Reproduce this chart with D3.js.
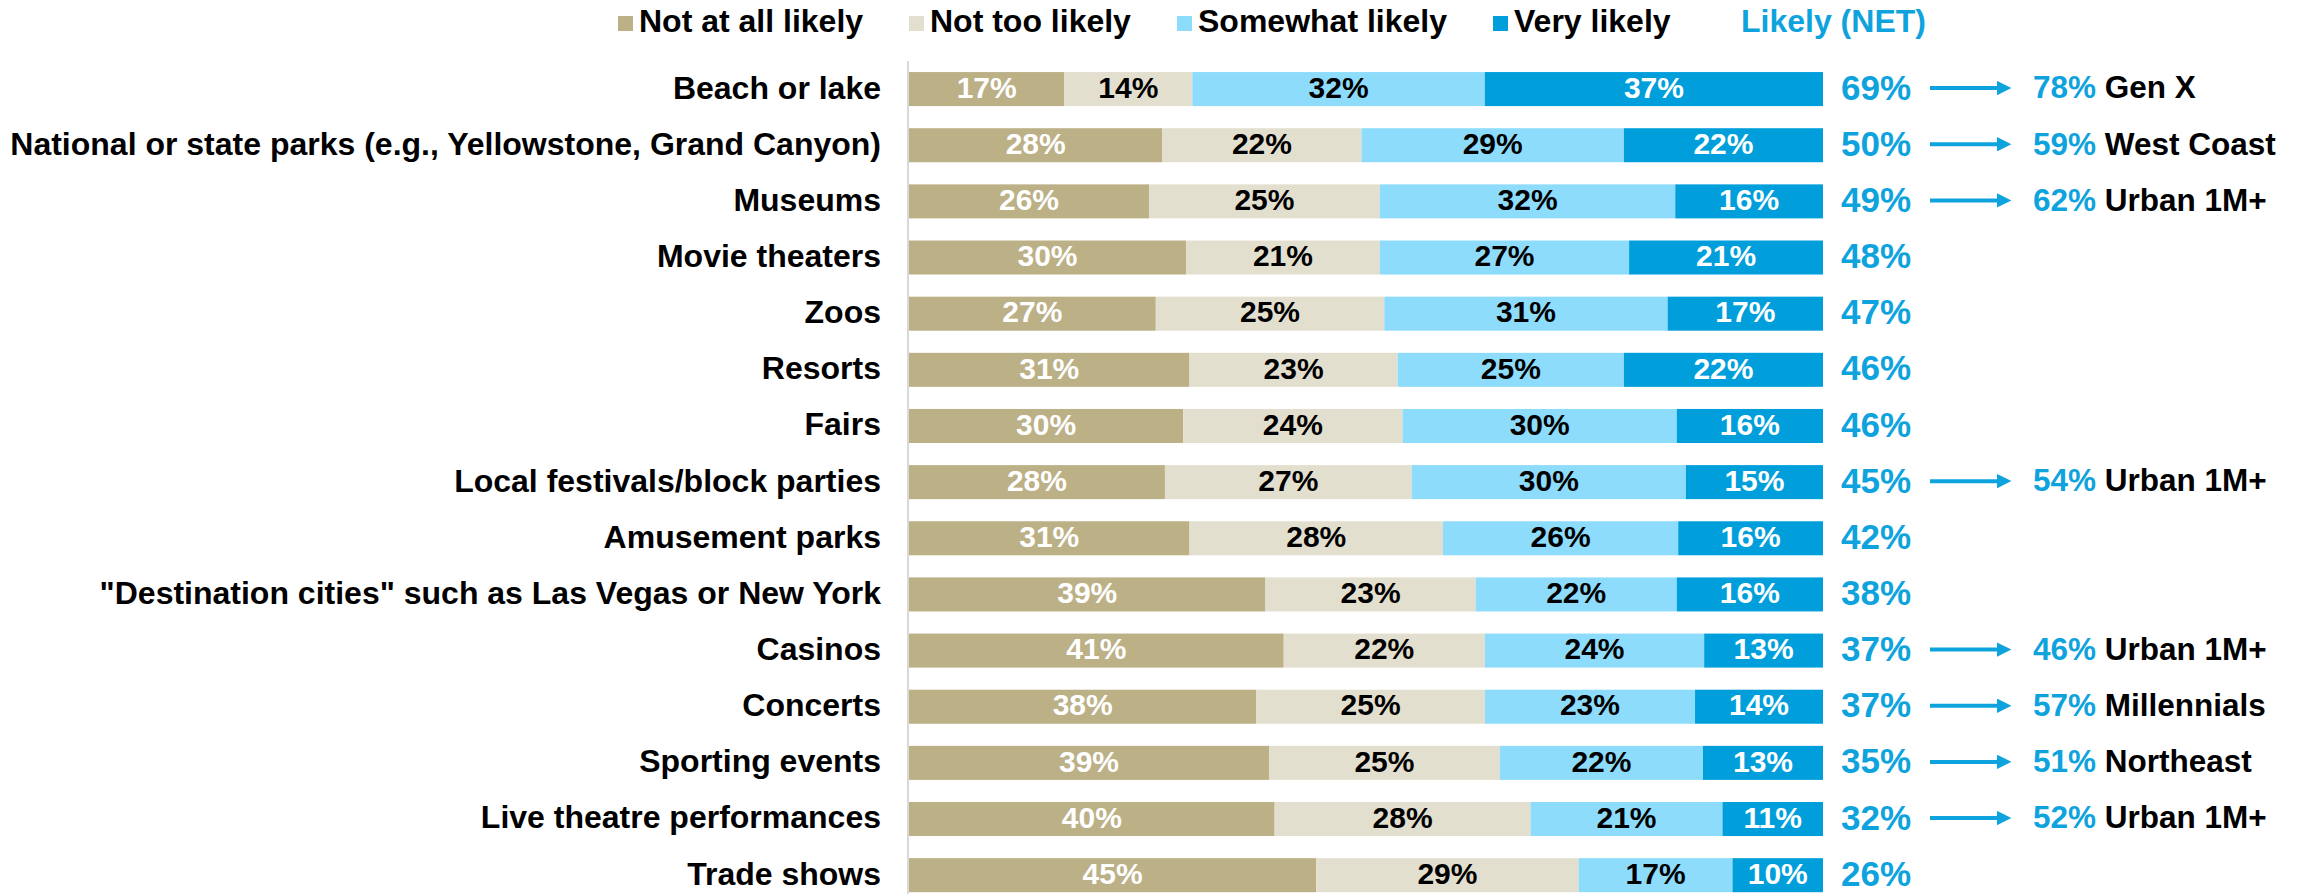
<!DOCTYPE html>
<html>
<head>
<meta charset="utf-8">
<script src="https://cdn.jsdelivr.net/npm/d3@7"></script>
<style>
  html, body { margin: 0; padding: 0; background: #ffffff; }
  svg { display: block; }
  text { font-family: "Liberation Sans", Arial, Helvetica, sans-serif; font-weight: bold; }
</style>
</head>
<body>
<svg id="chart" width="2301" height="894"></svg>
<script>
// Likelihood of visiting each type of destination
const categories = [
  "Beach or lake",
  "National or state parks (e.g., Yellowstone, Grand Canyon)",
  "Museums",
  "Movie theaters",
  "Zoos",
  "Resorts",
  "Fairs",
  "Local festivals/block parties",
  "Amusement parks",
  "\"Destination cities\" such as Las Vegas or New York",
  "Casinos",
  "Concerts",
  "Sporting events",
  "Live theatre performances",
  "Trade shows"
];

const notAtAllLikely = [17, 28, 26, 30, 27, 31, 30, 28, 31, 39, 41, 38, 39, 40, 45];
const notTooLikely   = [14, 22, 25, 21, 25, 23, 24, 27, 28, 23, 22, 25, 25, 28, 29];
const somewhatLikely = [32, 29, 32, 27, 31, 25, 30, 30, 26, 22, 24, 23, 22, 21, 17];
const veryLikely     = [37, 22, 16, 21, 17, 22, 16, 15, 16, 16, 13, 14, 13, 11, 10];
const likelyNet      = [69, 50, 49, 48, 47, 46, 46, 45, 42, 38, 37, 37, 35, 32, 26];

// Highest-scoring subgroup for selected rows (null = no call-out)
const breakoutPct   = [78, 59, 62, null, null, null, null, 54, null, null, 46, 57, 51, 52, null];
const breakoutGroup = ["Gen X", "West Coast", "Urban 1M+", null, null, null, null, "Urban 1M+", null, null, "Urban 1M+", "Millennials", "Northeast", "Urban 1M+", null];

const seriesKeys   = ["notAtAll", "notToo", "somewhat", "very"];
const seriesLabels = ["Not at all likely", "Not too likely", "Somewhat likely", "Very likely"];
const netLabel     = "Likely (NET)";

const colors    = { notAtAll: "#bcb087", notToo: "#e3dfcf", somewhat: "#8ddcfc", very: "#009fdb" };
const textColor = { notAtAll: "#ffffff", notToo: "#000000", somewhat: "#000000", very: "#ffffff" };
const netBlue   = "#0fa3de";

const rows = categories.map((c, i) => ({
  category: c,
  notAtAll: notAtAllLikely[i],
  notToo: notTooLikely[i],
  somewhat: somewhatLikely[i],
  very: veryLikely[i],
  net: likelyNet[i],
  bPct: breakoutPct[i],
  bGroup: breakoutGroup[i]
}));

const svg = d3.select("#chart");

const x = d3.scaleLinear().domain([0, 1]).range([909, 1823]);
const y = d3.scaleBand()
  .domain(categories)
  .range([61, 61 + 15 * 56.15])
  .paddingInner(0.394)
  .paddingOuter(0.197);

const stack = d3.stack().keys(seriesKeys).offset(d3.stackOffsetExpand);
const stacked = stack(rows);

// baseline that centres capitals on a band
const baseline = (cat, fs) => y(cat) + y.bandwidth() / 2 + 0.358 * fs - 2;

// category axis line
svg.append("line")
  .attr("x1", x(0) - 1).attr("x2", x(0) - 1)
  .attr("y1", y.range()[0]).attr("y2", y.range()[1])
  .attr("stroke", "#d9d9d9").attr("stroke-width", 2);

// category labels
const catFs = 32;
svg.append("g").selectAll("text")
  .data(categories)
  .join("text")
  .attr("x", 881)
  .attr("y", d => baseline(d, catFs))
  .attr("text-anchor", "end")
  .attr("font-size", catFs)
  .attr("fill", "#000")
  .text(d => d);

// stacked segments
const layers = svg.append("g").selectAll("g")
  .data(stacked)
  .join("g")
  .attr("fill", s => colors[s.key]);

layers.selectAll("rect")
  .data(s => s)
  .join("rect")
  .attr("x", d => x(d[0]))
  .attr("y", d => y(d.data.category))
  .attr("width", d => x(d[1]) - x(d[0]))
  .attr("height", y.bandwidth());

// segment value labels
const segFs = 30;
svg.append("g").selectAll("g")
  .data(stacked)
  .join("g")
  .attr("fill", s => textColor[s.key])
  .selectAll("text")
  .data(s => s.map(d => ({ d, key: s.key })))
  .join("text")
  .attr("x", o => (x(o.d[0]) + x(o.d[1])) / 2)
  .attr("y", o => baseline(o.d.data.category, segFs))
  .attr("text-anchor", "middle")
  .attr("font-size", segFs)
  .text(o => o.d.data[o.key] + "%");

// NET column
const netFs = 35;
const netX = x(1) + 18;
svg.append("g").selectAll("text")
  .data(rows)
  .join("text")
  .attr("x", netX)
  .attr("y", d => baseline(d.category, netFs))
  .attr("font-size", netFs)
  .attr("fill", netBlue)
  .text(d => d.net + "%");

// arrows and subgroup call-outs
const defs = svg.append("defs");
defs.append("marker")
  .attr("id", "arrowHead")
  .attr("viewBox", "0 0 10 10")
  .attr("refX", 0).attr("refY", 5)
  .attr("markerWidth", 4).attr("markerHeight", 3.6)
  .attr("markerUnits", "strokeWidth")
  .attr("orient", "auto")
  .append("path")
  .attr("d", "M0,0 L10,5 L0,10 Z")
  .attr("fill", netBlue);

const callouts = rows.filter(d => d.bPct !== null);
const arrowX0 = netX + 89;
const arrowX1 = arrowX0 + 67;
const calloutX = arrowX0 + 103;
const calloutFs = 31.5;

svg.append("g").selectAll("line")
  .data(callouts)
  .join("line")
  .attr("x1", arrowX0)
  .attr("x2", arrowX1)
  .attr("y1", d => y(d.category) + y.bandwidth() / 2 - 1)
  .attr("y2", d => y(d.category) + y.bandwidth() / 2 - 1)
  .attr("stroke", netBlue)
  .attr("stroke-width", 4)
  .attr("marker-end", "url(#arrowHead)");

const ct = svg.append("g").selectAll("text")
  .data(callouts)
  .join("text")
  .attr("x", calloutX)
  .attr("y", d => baseline(d.category, calloutFs))
  .attr("font-size", calloutFs);
ct.append("tspan").attr("fill", netBlue).text(d => d.bPct + "%");
ct.append("tspan").attr("fill", "#000").text(d => " " + d.bGroup);

// legend
const legend = svg.append("g");
const legendX = [618, 909, 1177, 1493];
seriesKeys.forEach((k, i) => {
  legend.append("rect")
    .attr("x", legendX[i]).attr("y", 16)
    .attr("width", 15).attr("height", 15)
    .attr("fill", colors[k]);
  legend.append("text")
    .attr("x", legendX[i] + 21).attr("y", 32)
    .attr("font-size", 32)
    .attr("fill", "#000")
    .text(seriesLabels[i]);
});
legend.append("text")
  .attr("x", 1741).attr("y", 32)
  .attr("font-size", 32)
  .attr("fill", netBlue)
  .text(netLabel);
</script>
</body>
</html>
